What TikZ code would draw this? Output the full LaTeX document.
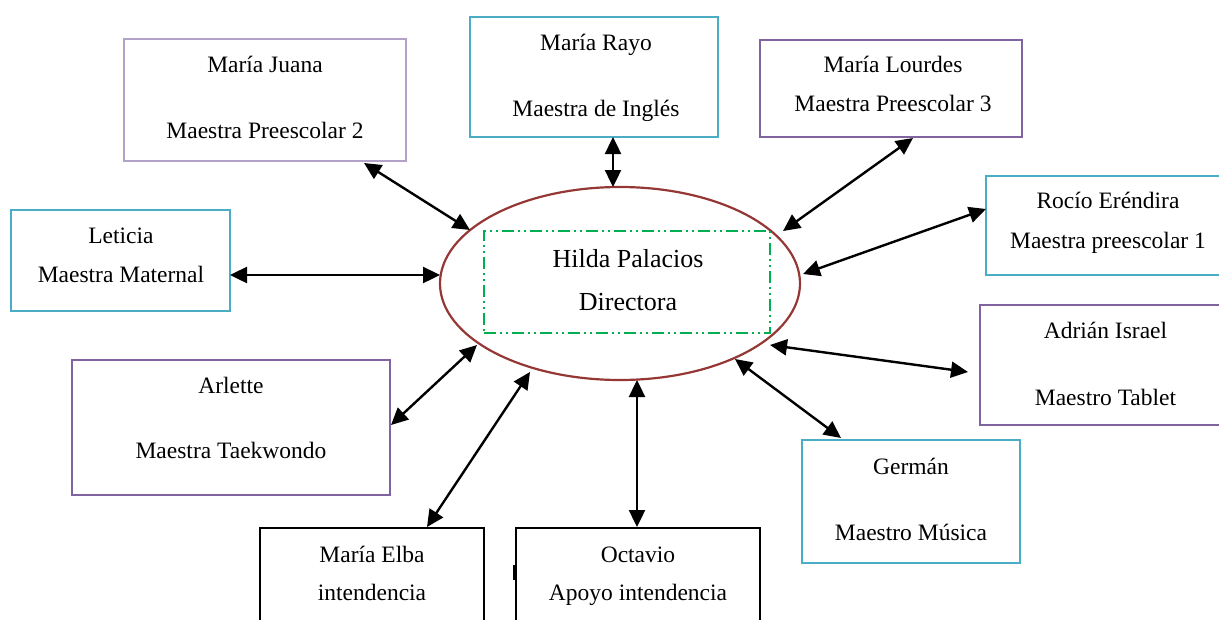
\documentclass[tikz,border=0pt]{standalone}
\usepackage{fontspec}
\setmainfont{Liberation Serif}
\usetikzlibrary{arrows.meta,shapes.geometric,calc}
\definecolor{cy}{HTML}{4BACC6}
\definecolor{pu}{HTML}{8064A2}
\definecolor{lpu}{HTML}{B3A2C7}
\definecolor{brn}{HTML}{953735}
\definecolor{grn}{HTML}{00B050}
\tikzset{
  box/.style={draw=#1, line width=2pt, inner sep=0pt, rectangle},
  lbl/.style={anchor=base, inner sep=0pt, font=\fontsize{23.5}{28}\selectfont},
  clbl/.style={anchor=base, inner sep=0pt, font=\fontsize{26}{30}\selectfont},
  biarr/.style={line width=2.4pt, {Triangle[length=17pt,width=16pt]}-{Triangle[length=17pt,width=16pt]}},
}
\begin{document}
\begin{tikzpicture}[x=1pt,y=-1pt]
\useasboundingbox (0,0) rectangle (1219,619);
\clip (0,0) rectangle (1219,619);

% central ellipse
\node[ellipse, draw=brn, line width=2.2pt, minimum width=360pt, minimum height=193pt, inner sep=0pt] (ell) at (620,283.5) {};
\node[draw=grn, line width=2pt, dash pattern=on 12pt off 4pt on 2pt off 4pt on 2pt off 4pt, minimum width=286pt, minimum height=102pt, inner sep=0pt] (dir) at (627,282) {};
\node[clbl] (dirA) at (628,267) {Hilda Palacios};
\node[clbl] (dirB) at (628,310) {Directora};

% boxes
\node[box=lpu, minimum width=282pt, minimum height=122pt] (juana) at (265,100) {};
\node[box=cy, minimum width=248pt, minimum height=120pt] (rayo) at (594,77) {};
\node[box=pu, minimum width=262pt, minimum height=97pt] (lourdes) at (891,88.5) {};
\node[box=cy, minimum width=244pt, minimum height=99pt] (rocio) at (1108,225.5) {};
\node[box=pu, minimum width=251pt, minimum height=120pt] (adrian) at (1105.5,365) {};
\node[box=cy, minimum width=218pt, minimum height=123pt] (german) at (911,501.5) {};
\node[box=black, minimum width=244pt, minimum height=122pt] (octavio) at (638,589) {};
\node[box=black, minimum width=224pt, minimum height=122pt] (elba) at (372,589) {};
\node[box=pu, minimum width=318pt, minimum height=135pt] (arlette) at (231,427.5) {};
\node[box=cy, minimum width=219pt, minimum height=101pt] (leticia) at (120.5,260.5) {};

% labels
\node[lbl] (juanaA) at (265,72) {María Juana};
\node[lbl] (juanaB) at (265,138) {Maestra Preescolar 2};
\node[lbl] (rayoA) at (596,50) {María Rayo};
\node[lbl] (rayoB) at (596,116) {Maestra de Inglés};
\node[lbl] (lourdesA) at (893,72) {María Lourdes};
\node[lbl] (lourdesB) at (893,111) {Maestra Preescolar 3};
\node[lbl] (rocioA) at (1108,208) {Rocío Eréndira};
\node[lbl] (rocioB) at (1108,248) {Maestra preescolar 1};
\node[lbl] (adrianA) at (1105.5,338) {Adrián Israel};
\node[lbl] (adrianB) at (1105.5,405) {Maestro Tablet};
\node[lbl] (germanA) at (911,474) {Germán};
\node[lbl] (germanB) at (911,540) {Maestro Música};
\node[lbl] (octavioA) at (638,562) {Octavio};
\node[lbl] (octavioB) at (638,600) {Apoyo intendencia};
\node[lbl] (elbaA) at (372,562) {María Elba};
\node[lbl] (elbaB) at (372,600) {intendencia};
\node[lbl] (arletteA) at (231,393) {Arlette};
\node[lbl] (arletteB) at (231,458) {Maestra Taekwondo};
\node[lbl] (leticiaA) at (121,243) {Leticia};
\node[lbl] (leticiaB) at (121,282) {Maestra Maternal};

% stray mark
\fill (513,565) rectangle (516,580);

% connectors
\draw[biarr] ($(juana)+(99,63)$) -- ($(ell)+(-150,-53.5)$);
\draw[biarr] ($(rayo)+(19,60)$) -- ($(ell)+(-7,-96.5)$);
\draw[biarr] ($(lourdes)+(22,49.5)$) -- ($(ell)+(163,-52.5)$);
\draw[biarr] ($(rocio)+(-122,-16.5)$) -- ($(ell)+(183,-9.5)$);
\draw[biarr] ($(leticia)+(109.5,14.5)$) -- ($(ell)+(-180,-8.5)$);
\draw[biarr] ($(adrian)+(-137.5,7)$) -- ($(ell)+(150,61.5)$);
\draw[biarr] ($(german)+(-70,-63.5)$) -- ($(ell)+(115,75.5)$);
\draw[biarr] ($(octavio)+(-1,-62)$) -- ($(ell)+(17,96.5)$);
\draw[biarr] ($(elba)+(55,-62)$) -- ($(ell)+(-90,88.5)$);
\draw[biarr] ($(arlette)+(160,-2.5)$) -- ($(ell)+(-143,61.5)$);
\end{tikzpicture}
\end{document}
